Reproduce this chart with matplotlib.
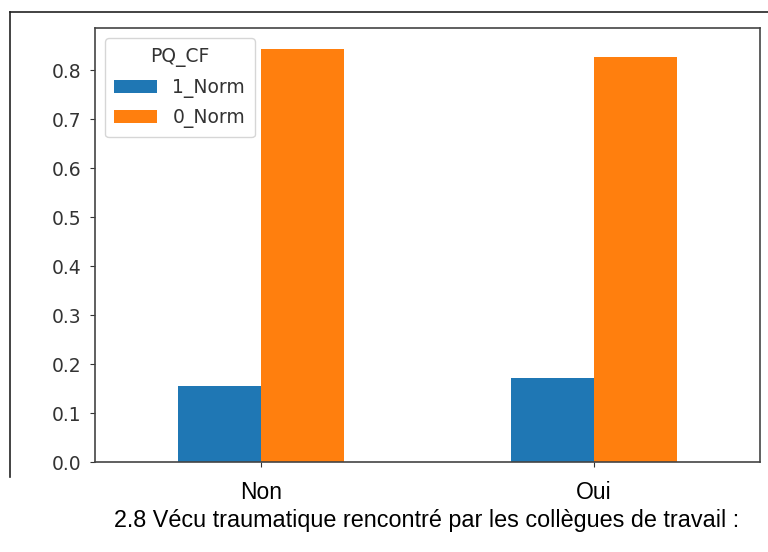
import matplotlib.pyplot as plt
import numpy as np
from matplotlib.lines import Line2D

categories = ["Non", "Oui"]
series_names = ["1_Norm", "0_Norm"]
norm_1 = [0.156, 0.172]
norm_0 = [0.844, 0.828]
legend_title = "PQ_CF"
caption = "2.8 Vécu traumatique rencontré par les collègues de travail :"

W, H = 768, 552
fig = plt.figure(figsize=(W / 100, H / 100), dpi=100)
ax = fig.add_axes([95 / W, 1 - 462 / H, 665 / W, 434 / H])

x = np.arange(len(categories))
width = 0.25
ax.bar(x - width / 2, norm_1, width, color="#1f77b4", label=series_names[0])
ax.bar(x + width / 2, norm_0, width, color="#ff7f0e", label=series_names[1])

ax.set_xlim(-0.5, len(categories) - 0.5)
ax.set_ylim(0, max(norm_0 + norm_1) * 1.05)
ax.set_yticks(np.arange(0, 0.81, 0.1))
ax.set_yticklabels([f"{v:.1f}" for v in np.arange(0, 0.81, 0.1)])
ax.tick_params(axis="y", labelsize=13.5, pad=6, colors="#333333", labelcolor="#333333")
ax.set_xticks(x)
ax.set_xticklabels(categories, fontsize=16.5, family="Liberation Sans")
ax.tick_params(axis="x", pad=10, colors="#333333", labelcolor="black")
for s in ax.spines.values():
    s.set_color("#444444")
    s.set_linewidth(1.2)

leg = ax.legend(title=legend_title, loc="upper left", fontsize=13.5, title_fontsize=13.5,
                handlelength=2.3, borderpad=0.5, labelspacing=0.55,
                bbox_to_anchor=(0.015, 0.977), borderaxespad=0)
leg.get_title().set_color("#333333")
for t in leg.get_texts():
    t.set_color("#333333")

fig.text(427 / W, 1 - 521 / H, caption, ha="center", va="center",
         fontsize=16.8, family="Liberation Sans")

# outer frame of the document cell
fig.add_artist(Line2D([10 / W, 1], [1 - 12 / H, 1 - 12 / H], transform=fig.transFigure,
                      color="#222222", lw=1.2))
fig.add_artist(Line2D([10 / W, 10 / W], [1 - 12 / H, 1 - 477 / H], transform=fig.transFigure,
                      color="#222222", lw=1.2))

fig.savefig("out.png", dpi=100)
